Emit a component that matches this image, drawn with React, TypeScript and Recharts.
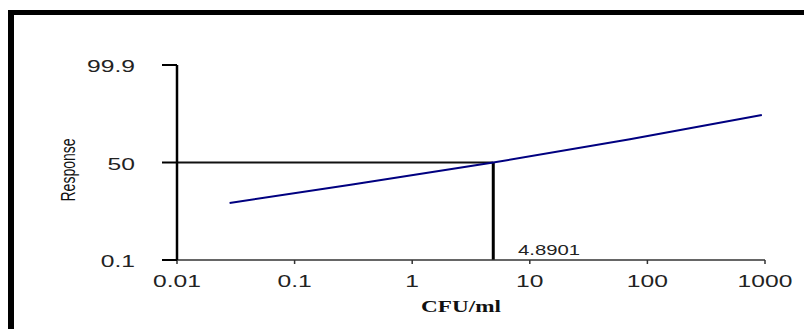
import { LineChart, Line, XAxis, YAxis, ReferenceLine } from "recharts";

// values (CFU/ml on log axis, response % on probit axis)
const cfu = [0.028, 0.3, 4.8901, 71, 940];
const responsePct = [10, 24, 50, 77, 93.4];

const xTicks = [0.01, 0.1, 1, 10, 100, 1000];
const xTickLabels = ["0.01", "0.1", "1", "10", "100", "1000"];
const yTickPct = [0.1, 50, 99.9];
const yTickLabels = ["0.1", "50", "99.9"];

const ec50 = 4.8901;
const ec50Label = "4.8901";

// inverse normal cdf (Acklam)
const probit = (p: number) => {
  const a = [-39.69683028665376, 220.9460984245205, -275.9285104469687, 138.357751867269, -30.66479806614716, 2.506628277459239];
  const b = [-54.47609879822406, 161.5858368580409, -155.6989798598866, 66.80131188771972, -13.28068155288572];
  const c = [-0.007784894002430293, -0.3223964580411365, -2.400758277161838, -2.549732539343734, 4.374664141464968, 2.938163982698783];
  const d = [0.007784695709041462, 0.3224671290700398, 2.445134137142996, 3.754408661907416];
  const pl = 0.02425;
  if (p < pl) {
    const q = Math.sqrt(-2 * Math.log(p));
    return (((((c[0] * q + c[1]) * q + c[2]) * q + c[3]) * q + c[4]) * q + c[5]) /
      ((((d[0] * q + d[1]) * q + d[2]) * q + d[3]) * q + 1);
  }
  if (p > 1 - pl) {
    const q = Math.sqrt(-2 * Math.log(1 - p));
    return -(((((c[0] * q + c[1]) * q + c[2]) * q + c[3]) * q + c[4]) * q + c[5]) /
      ((((d[0] * q + d[1]) * q + d[2]) * q + d[3]) * q + 1);
  }
  const q = p - 0.5;
  const r = q * q;
  return (((((a[0] * r + a[1]) * r + a[2]) * r + a[3]) * r + a[4]) * r + a[5]) * q /
    (((((b[0] * r + b[1]) * r + b[2]) * r + b[3]) * r + b[4]) * r + 1);
};

const data = cfu.map((c, i) => ({ cfu: c, z: probit(responsePct[i] / 100) }));
const yTicks = yTickPct.map((p) => probit(p / 100));
const zMin = yTicks[0];
const zMax = yTicks[yTicks.length - 1];

const SX = 1.45; // the original is stretched sideways
const font = "Arial, 'Liberation Sans', sans-serif";

const XTick = (props: any) => {
  const { x, y, payload } = props;
  const i = xTicks.findIndex((t) => Math.abs(t - payload.value) < 1e-9);
  return (
    <text transform={`translate(${x},${y + 21}) scale(${SX},1)`} textAnchor="middle"
      fontFamily={font} fontSize={17} fill="#222">
      {xTickLabels[i] ?? payload.value}
    </text>
  );
};

const YTick = (props: any) => {
  const { x, y, payload } = props;
  const i = yTicks.findIndex((t) => Math.abs(t - payload.value) < 1e-6);
  return (
    <text transform={`translate(${x - 25},${y + 7}) scale(${SX},1)`} textAnchor="end"
      fontFamily={font} fontSize={17} fill="#222">
      {yTickLabels[i]}
    </text>
  );
};

export default function App() {
  return (
    <div style={{ position: "relative", width: 812, height: 329, margin: "-8px 0 0 -8px", background: "#fff" }}>
      <div style={{ position: "absolute", left: 7, top: 10, width: 805, height: 5, background: "#000" }} />
      <div style={{ position: "absolute", left: 7, top: 10, width: 7, height: 319, background: "#000" }} />
      <div style={{ position: "absolute", left: 0, top: 0 }}>
        <LineChart width={812} height={329} data={data} margin={{ top: 65, right: 47, bottom: 0, left: 0 }}>
          <XAxis
            dataKey="cfu"
            type="number"
            scale="log"
            domain={[0.01, 1000]}
            ticks={xTicks}
            allowDataOverflow
            height={69}
            axisLine={{ stroke: "#333", strokeWidth: 1.5 }}
            tickLine={{ stroke: "#333", strokeWidth: 1.5 }}
            tickSize={4}
            tick={<XTick />}
            label={{
              content: () => (
                <text transform={`translate(461,312) scale(${SX},1)`} textAnchor="middle"
                  fontFamily="'Times New Roman', 'Liberation Serif', serif" fontWeight="bold" fontSize={16} fill="#111">
                  CFU/ml
                </text>
              ),
            }}
          />
          <YAxis
            dataKey="z"
            type="number"
            domain={[zMin, zMax]}
            ticks={yTicks}
            allowDataOverflow
            width={177}
            axisLine={{ stroke: "#000", strokeWidth: 2.5 }}
            tickLine={{ stroke: "#000", strokeWidth: 2 }}
            tickSize={15}
            tick={<YTick />}
            label={{
              content: () => (
                <text transform={`translate(68,170) scale(${SX},1) rotate(-90)`} textAnchor="middle"
                  dy="0.35em" fontFamily={font} fontSize={14} fill="#111">
                  Response
                </text>
              ),
            }}
          />
          <ReferenceLine
            segment={[{ x: 0.01, y: 0 }, { x: ec50, y: 0 }]}
            stroke="#111"
            strokeWidth={2}
          />
          <ReferenceLine
            segment={[{ x: ec50, y: zMin }, { x: ec50, y: 0 }]}
            stroke="#000"
            strokeWidth={3}
          />
          <Line
            type="linear"
            dataKey="z"
            stroke="#000080"
            strokeWidth={2}
            dot={false}
            isAnimationActive={false}
          />
          <text transform={`translate(518,255) scale(${SX},1)`} fontFamily={font} fontSize={14} fill="#222">
            {ec50Label}
          </text>
        </LineChart>
      </div>
    </div>
  );
}
